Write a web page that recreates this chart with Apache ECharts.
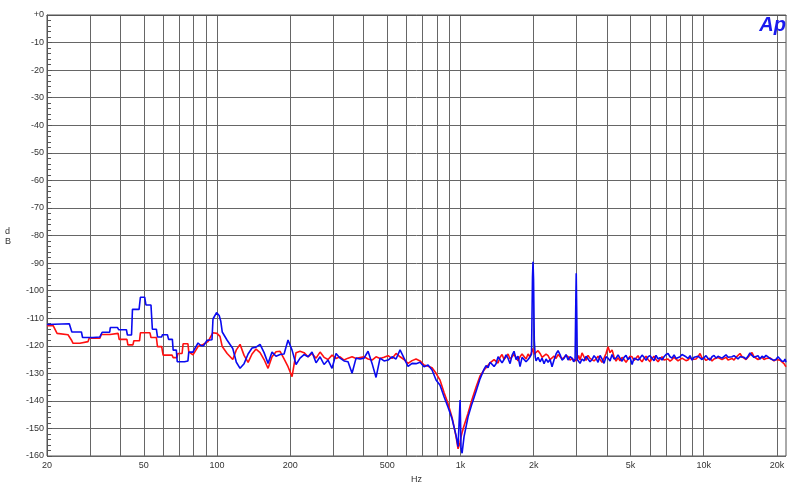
<!DOCTYPE html>
<html><head><meta charset="utf-8">
<script src="https://cdn.jsdelivr.net/npm/echarts@6/dist/echarts.min.js"></script>
<style>html,body{margin:0;padding:0;background:#fff}#c{width:800px;height:484px}</style>
</head><body><div id="c"></div>
<script>
// ---- data (Hz, dB) ----
const hzLowBlue = [20, 24.7, 25.3, 27.7, 28.0, 30.9, 33.0, 33.7, 36.2, 36.4, 39.0, 39.4, 42.4, 42.8, 44.5, 44.9, 47.8, 48.4, 50.4, 51.0, 53.5, 54.2, 56.3, 56.9, 59.2, 59.6, 62.5, 63.2, 65.5, 66.0, 68.0, 68.6, 73.5, 74.5, 75.9, 76.5, 79.5, 80.0, 83.5, 86.0, 88.0, 91.0, 95.3, 96.2, 99.5, 102, 103.5, 105, 110, 116, 120];
const dbLowBlue = [-112.3, -112, -115, -115, -117, -117, -116.8, -115.1, -115.1, -113.4, -113.4, -114.2, -114.2, -116.1, -116.1, -106.8, -106.8, -102.4, -102.4, -105.2, -105.2, -114, -114, -116.8, -116.8, -116, -116, -117.7, -117.7, -121.6, -121.6, -125.8, -125.8, -125.5, -125.5, -122.3, -122.3, -122, -119, -120, -120, -118, -117.8, -110.3, -108, -109, -111, -115, -118, -121, -126];

const hzLowRed = [20, 21.2, 22.0, 24.4, 25.3, 25.6, 27.3, 27.6, 29.5, 29.8, 33.0, 33.4, 36.3, 36.5, 39.2, 39.6, 42.6, 43.0, 45.1, 45.5, 48.0, 48.4, 53.0, 53.5, 56.3, 56.9, 59.2, 60.0, 65.3, 66.0, 68.4, 69.0, 71.8, 72.5, 75.9, 76.5, 79.6, 83.5, 87.5, 91.8, 96, 99.9, 102.8, 105, 110, 116, 120];
const dbLowRed = [-112.7, -112.7, -115.5, -116, -118.2, -119.1, -119.1, -118.5, -118.5, -117.3, -117.3, -115.9, -115.9, -115.5, -115.5, -117.7, -117.7, -119.7, -119.7, -118.2, -118.2, -115.3, -115.3, -117, -117, -120.3, -120.3, -123.4, -123.4, -124.3, -124.3, -122.8, -122.8, -119.3, -119.3, -122.2, -123.3, -120.3, -119.5, -118.5, -115.3, -115.5, -116.6, -120.3, -122.8, -125, -121.5];

// 124 Hz .. 1.2 kHz (shared frequencies)
const hzMid = [124.3, 129.1, 134.1, 139.2, 144.6, 150.2, 156.0, 162.0, 168.2, 174.7, 181.5, 188.5, 195.7, 203.3, 211.1, 219.3, 227.7, 236.5, 245.6, 255.1, 265.0, 275.2, 285.8, 296.8, 308.3, 320.2, 332.5, 345.3, 358.7, 372.5, 386.9, 401.8, 417.3, 433.4, 450.1, 467.5, 485.5, 504.2, 523.7, 543.9, 564.9, 586.6, 609.3, 632.8, 657.2, 682.5, 708.9, 736.2, 764.6, 794.1, 824.8, 856.6, 889.6, 923.9, 959.6, 978, 997, 1006, 1016, 1035, 1075, 1116, 1160, 1204];
const dbMidBlue = [-128.2, -126.5, -123, -120.8, -120.5, -119.5, -122.5, -126.4, -122.3, -123.8, -123.2, -123, -117.9, -121.6, -126.8, -124.5, -123.2, -124, -122.3, -126.2, -124, -126.8, -125.2, -128.2, -122.8, -124.5, -125.5, -125.8, -130, -124.5, -124.8, -124.5, -122, -126.4, -131.5, -124.5, -125.5, -125.2, -124, -124.8, -121.5, -124.5, -127.5, -126.4, -126.5, -126, -127.6, -127, -128.8, -132.4, -134.3, -138.5, -142.3, -146.5, -152.5, -156.6, -139.7, -157.4, -159, -153, -145.8, -141, -136.5, -132];
const dbMidRed = [-119.5, -123.5, -126, -123, -121.2, -122.5, -125, -128.2, -124, -122.2, -122, -124.8, -127.6, -131.2, -122.5, -122, -122.5, -124, -122.8, -124.5, -122.3, -124.2, -125, -123.4, -124.6, -124, -125.2, -124.5, -124, -124.6, -124.3, -124, -124.8, -125.2, -124, -124.6, -124.2, -123.6, -124.6, -122.8, -124, -125, -126.4, -125.4, -124.8, -125.5, -127, -127.4, -128, -130, -132.5, -137, -141, -146, -153, -157.4, -155, -153, -151.5, -149, -144.5, -139.5, -135, -131];

// 1.25 kHz .. 21.8 kHz (shared frequencies)
const hzTop = [1251, 1275, 1299, 1324, 1349, 1375, 1401, 1428, 1455, 1483, 1511, 1540, 1570, 1600, 1630, 1661, 1693, 1725, 1758, 1792, 1826, 1861, 1897, 1928, 1960, 1978, 1988, 1998, 2012, 2030, 2046, 2085, 2125, 2166, 2207, 2249, 2292, 2336, 2380, 2425, 2472, 2519, 2567, 2616, 2666, 2717, 2769, 2822, 2876, 2920, 2960, 2980, 2992, 3005, 3022, 3060, 3102, 3161, 3222, 3284, 3346, 3410, 3475, 3541, 3609, 3678, 3748, 3820, 3893, 3967, 4043, 4120, 4199, 4279, 4361, 4444, 4529, 4616, 4704, 4794, 4885, 4978, 5074, 5171, 5269, 5370, 5473, 5578, 5684, 5793, 5903, 6016, 6131, 6248, 6367, 6489, 6613, 6739, 6868, 6999, 7133, 7269, 7408, 7550, 7694, 7841, 7990, 8143, 8298, 8456, 8618, 8783, 8951, 9122, 9296, 9474, 9655, 9839, 10027, 10219, 10414, 10613, 10815, 11022, 11232, 11447, 11665, 11888, 12115, 12346, 12582, 12822, 13067, 13317, 13571, 13830, 14094, 14363, 14638, 14918, 15202, 15492, 15788, 16090, 16397, 16710, 17029, 17354, 17686, 18024, 18368, 18719, 19076, 19440, 19812, 20190, 20576, 20969, 21370, 21575, 21780];
const dbTopBlue = [-128.5, -127.2, -128, -126, -126.4, -127.5, -126.5, -124, -124.5, -126.2, -125, -123.3, -124.6, -126.5, -123.5, -122, -125, -123.8, -127.6, -124.2, -123.5, -125.8, -125, -124.2, -123, -95, -89.5, -96, -118, -124, -125.5, -124.2, -125.8, -124.5, -126.5, -124.8, -126, -125, -127.6, -125.2, -123, -121.8, -123.2, -125.2, -124.6, -123.2, -125.2, -124, -124.5, -125.8, -125, -104, -93.7, -106, -125, -125.5, -126.4, -124.8, -125.5, -123.8, -123.5, -125.8, -125, -123.6, -124.5, -126, -123.5, -124.8, -126.4, -124, -124.5, -125.5, -123.2, -124.8, -124.5, -123.3, -124.5, -125.6, -124.2, -123.5, -125, -124.2, -126.8, -124.5, -124, -125.2, -124.5, -123.4, -124.2, -125.3, -124, -123.6, -124.5, -125.4, -123.5, -124.8, -124.3, -125.2, -124, -123.2, -122.8, -124, -124.5, -123.3, -124.6, -125.3, -124, -123.2, -122.8, -124, -124.6, -123.6, -125.2, -124.2, -124.8, -123.8, -124, -125, -124.3, -123.6, -124.6, -125.2, -124, -123.5, -124.5, -123.8, -123.5, -124.5, -124, -123.3, -124.2, -124.8, -124, -123.6, -124.2, -124.8, -124, -123.5, -124.2, -124.8, -123.8, -122.6, -123.5, -124.2, -124.5, -123.6, -124.8, -123.8, -124.3, -123.5, -123.2, -124.6, -124.5, -125.3, -125, -124, -124.8, -125.6, -125.6, -124.8, -126];
const dbTopRed = [-128.8, -128, -127.5, -126.2, -126.5, -125, -125.5, -126.3, -124.2, -123.2, -125, -124, -123, -124.8, -124.5, -123.2, -124.2, -125.5, -124, -123, -123.6, -124.8, -123, -124, -122.5, -121, -120.4, -121, -123, -123, -123, -121.8, -122.8, -124.2, -124.5, -123, -123.6, -125, -125.5, -123.8, -124.6, -123.2, -123.5, -124.8, -124.2, -123.5, -124, -125.2, -124.6, -124.2, -125.5, -125.8, -125.5, -125.2, -125, -123.5, -125.2, -122.6, -124, -125.3, -123.5, -124.6, -124.2, -125.5, -124.8, -123.8, -125, -126, -124.5, -122.8, -120.4, -122.5, -121.5, -124, -125.6, -124.3, -125.5, -124.2, -125, -126, -124.8, -123.8, -124, -125.3, -124.8, -123.6, -125, -125.8, -124.6, -123.8, -125, -125.8, -124.6, -123.8, -125, -125.8, -124.8, -124, -125.2, -124.5, -124.8, -125.6, -125, -124.2, -124.6, -125.5, -125, -124.5, -124, -125.4, -125.2, -124.3, -125, -125.6, -124.8, -124, -122.8, -124.5, -124.5, -125.3, -125, -124.5, -125.5, -124.8, -125, -124.3, -124.2, -125, -124.8, -124.2, -125.2, -124.5, -124.6, -125.2, -124.2, -123.5, -122.8, -124, -124.5, -125, -124.2, -123.6, -122.5, -124, -124.4, -125, -124.8, -124.2, -125, -124.6, -125.2, -124.4, -124.8, -125.5, -125, -124.6, -125.2, -125.8, -126.5, -126, -127.6];

const gridHz = [20, 30, 40, 50, 60, 70, 80, 90, 100, 200, 300, 400, 500, 600, 700, 800, 900, 1000, 2000, 3000, 4000, 5000, 6000, 7000, 8000, 9000, 10000, 20000];
const labelHz = [20, 50, 100, 200, 500, 1000, 2000, 5000, 10000, 20000];
const xMinHz = 20, xMaxHz = 21780;
const yMin = -160, yMax = 0, yStep = 10;

// ---- build ----
const lg = v => Math.log10(v);
function pairs(hz, db) { return hz.map((h, i) => [lg(h), db[i]]); }
const blueData = pairs(hzLowBlue.concat(hzMid, hzTop), dbLowBlue.concat(dbMidBlue, dbTopBlue));
const redData = pairs(hzLowRed.concat(hzMid, hzTop), dbLowRed.concat(dbMidRed, dbTopRed));
function fmtHz(v) {
  const f = Math.round(Math.pow(10, v));
  return f >= 1000 ? (f / 1000) + 'k' : String(f);
}
const FONT = 'Liberation Sans, Arial, sans-serif';
const chart = echarts.init(document.getElementById('c'), null, { renderer: 'canvas' });
chart.setOption({
  animation: false,
  backgroundColor: '#fff',
  grid: { left: 47, right: 14, top: 15, bottom: 28, show: true, borderColor: '#555', borderWidth: 1, containLabel: false, outerBoundsMode: 'none' },
  xAxis: {
    type: 'value', min: lg(xMinHz), max: lg(xMaxHz),
    name: 'Hz', nameLocation: 'middle', nameGap: 18,
    nameTextStyle: { fontFamily: FONT, fontSize: 9, color: '#333' },
    axisLine: { show: true, lineStyle: { color: '#555', width: 1 } },
    axisTick: { show: false, customValues: gridHz.map(lg) },
    axisLabel: { customValues: labelHz.map(lg), formatter: fmtHz, fontFamily: FONT, fontSize: 9, color: '#333', margin: 5, showMinLabel: true, showMaxLabel: true, hideOverlap: false },
    splitLine: { show: true, lineStyle: { color: '#666', width: 1 } }
  },
  yAxis: {
    type: 'value', min: yMin, max: yMax, interval: yStep,
    axisLine: { show: true, lineStyle: { color: '#555', width: 1 } },
    axisTick: { show: true, inside: true, length: 5, lineStyle: { color: '#555' } },
    minorTick: { show: true, splitNumber: 5, length: 4, lineStyle: { color: '#555' } },
    axisLabel: { formatter: v => (v === 0 ? '+0' : String(v)), fontFamily: FONT, fontSize: 9, color: '#333', margin: 3 },
    splitLine: { show: true, lineStyle: { color: '#666', width: 1 } }
  },
  graphic: [
    { type: 'text', left: 5, top: 227, style: { text: 'd\nB', font: '9px ' + FONT, fill: '#333', lineHeight: 10 } },
    { type: 'text', right: 14, top: 15, z: 100, style: { text: 'Ap', font: 'italic bold 20px ' + FONT, fill: '#1a1aee' } }
  ],
  series: [
    { name: 'red', type: 'line', data: redData, showSymbol: false, symbol: 'none', lineStyle: { color: '#ff1010', width: 1.6 }, z: 2 },
    { name: 'blue', type: 'line', data: blueData, showSymbol: false, symbol: 'none', lineStyle: { color: '#0a0af0', width: 1.6 }, z: 3 }
  ]
});
</script></body></html>
